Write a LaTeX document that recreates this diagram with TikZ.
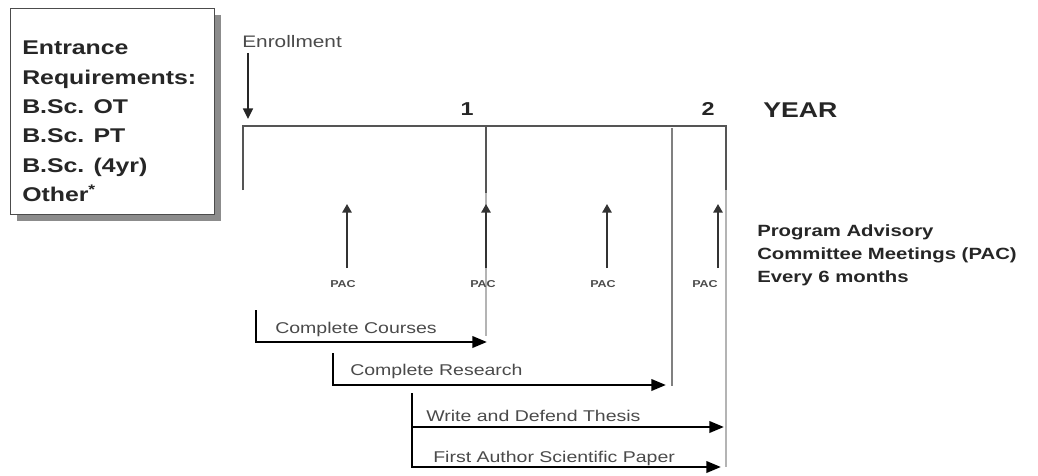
\documentclass[tikz,border=0pt]{standalone}
\usepackage{fontspec}
\setmainfont{Liberation Sans}[FakeStretch=1.25]
\usetikzlibrary{arrows.meta}
\usetikzlibrary{positioning}
\usetikzlibrary{shadows}

\definecolor{axisgray}{HTML}{555555}
\definecolor{palegray}{HTML}{B4B4B4}
\definecolor{labelgray}{HTML}{4A4A4A}

\begin{document}
\begin{tikzpicture}[x=0.75pt,y=-0.75pt,
    axis/.style={draw=axisgray,line width=1.5pt},
    guide/.style={draw=palegray,line width=0.8pt},
    pacarrow/.style={draw=black!80,line width=1.4pt,-{Triangle[length=6.5pt,width=7pt]}},
    enrarrow/.style={draw=black!85,line width=1.2pt,-{Triangle[length=8pt,width=7.5pt]}},
    task/.style={draw=black,line width=2pt,-{Triangle[length=11pt,width=8.5pt]}},
    tasklabel/.style={anchor=base west,inner sep=0,text=labelgray,font=\fontsize{11.7}{13}\selectfont},
    yearlabel/.style={anchor=base,inner sep=0,text=black!85,font=\bfseries\fontsize{14}{16}\selectfont},
    paclabel/.style={anchor=base,inner sep=0,text=black!70,font=\bfseries\fontsize{7.5}{9}\selectfont}]
    \useasboundingbox (0,0) rectangle (1038,475);

    % entrance requirements
    \node[draw=black!70,line width=1pt,fill=white,anchor=north west,
          minimum width=153pt,minimum height=154.5pt,
          drop shadow={shadow xshift=5pt,shadow yshift=-5pt,fill=black!45,opacity=1}] (req) at (10,8) {};
    \node[anchor=north west,align=left,inner sep=0,text=black!85,
          font=\bfseries\fontsize{14.9}{22}\selectfont] (reqtext) at (22,41)
          {Entrance\\Requirements:\\B.Sc. OT\\B.Sc. PT\\B.Sc. (4yr)\\Other\textsuperscript{*}};

    % time line
    \node[anchor=base west,inner sep=0,text=labelgray,font=\fontsize{12.5}{14}\selectfont] (enr) at (242,47) {Enrollment};
    \coordinate (enrtip) at (248,119);
    \draw[enrarrow] ([yshift=-4pt]enr.south -| enrtip) -- (enrtip);

    \coordinate (t0) at (243,126);
    \coordinate (t0end) at (243,190);
    \coordinate (t1) at (486,126);
    \coordinate (t1mid) at (486,193);
    \coordinate (t1end) at (486,336);
    \coordinate (t2) at (726,126);
    \coordinate (t2mid) at (726,190);
    \coordinate (t2end) at (726,467);
    \coordinate (rsch) at (672,128);
    \coordinate (rschend) at (672,386);
    \draw[axis] (t0end) -- (t0) -- (t2) -- (t2mid);
    \draw[axis] (t1) -- (t1mid);
    \draw[guide] (t1mid) -- (t1end);
    \draw[guide] (t2mid) -- (t2end);
    \draw[draw=black!50,line width=1pt] (rsch) -- (rschend);

    \node[yearlabel] (one) at (467,115) {1};
    \node[yearlabel] (two) at (708,115) {2};
    \node[anchor=base west,inner sep=0,text=black!85,font=\bfseries\fontsize{16}{18}\selectfont] (year) at (763,117) {YEAR};

    % PAC meetings
    \foreach \x/\lx [count=\i] in {347/343,486/483,607/603,718/705}{
        \node[paclabel] (pac\i) at (\lx,287) {PAC};
        \coordinate (pac\i base) at (\x,268);
        \coordinate (pac\i tip) at (\x,204);
        \draw[pacarrow] (pac\i base) -- (pac\i tip);
    }
    \node[anchor=north west,align=left,inner sep=0,text=black!85,
          font=\bfseries\fontsize{12.2}{17.5}\selectfont] (pacnote) at (757,224)
          {Program Advisory\\Committee Meetings (PAC)\\Every 6 months};

    % tasks
    \coordinate (c0) at (256,310);
    \coordinate (c1) at (256,342);
    \coordinate (c2) at (487,342);
    \draw[task] (c0) -- (c1) -- (c2);
    \node[tasklabel] (courses) at (275,333) {Complete Courses};

    \coordinate (r0) at (333,353);
    \coordinate (r1) at (333,385);
    \coordinate (r2) at (666,385);
    \draw[task] (r0) -- (r1) -- (r2);
    \node[tasklabel] (research) at (350,375) {Complete Research};

    \coordinate (w0) at (412,393);
    \coordinate (w1) at (412,427);
    \coordinate (w2) at (724,427);
    \coordinate (p1) at (412,467);
    \coordinate (p2) at (721,467);
    \draw[task] (w0) -- (p1) -- (p2);
    \draw[task] (w1) -- (w2);
    \node[tasklabel] (thesis) at (426,421) {Write and Defend Thesis};
    \node[tasklabel] (paper) at (433,462) {First Author Scientific Paper};
\end{tikzpicture}
\end{document}
